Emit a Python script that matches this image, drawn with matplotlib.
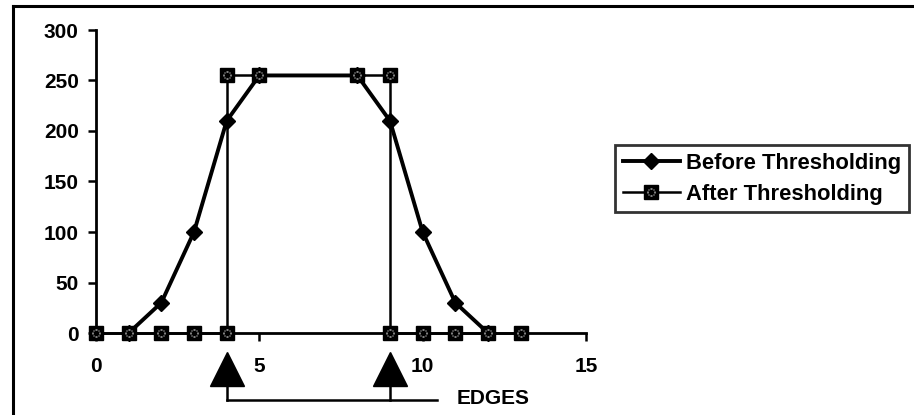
import matplotlib
matplotlib.use("Agg")
import matplotlib.pyplot as plt
from matplotlib.lines import Line2D
from matplotlib.path import Path
import matplotlib.transforms as mtransforms

plt.rcParams['font.family'] = ['Liberation Sans', 'DejaVu Sans']
plt.rcParams['font.weight'] = 'bold'

# Data
before_x = [1, 2, 3, 4, 5, 8, 9, 10, 11, 12]
before_y = [0, 30, 100, 210, 255, 255, 210, 100, 30, 0]
after_x = [0, 1, 2, 3, 4, 4, 5, 8, 9, 9, 10, 11, 12, 13]
after_y = [0, 0, 0, 0, 0, 255, 255, 255, 255, 0, 0, 0, 0, 0]
edges = [4, 9]
x_ticks = [0, 5, 10, 15]
y_ticks = [0, 50, 100, 150, 200, 250, 300]
labels = ["Before Thresholding", "After Thresholding"]
edge_label = "EDGES"

W, H = 914, 415
fig = plt.figure(figsize=(W / 100, H / 100), dpi=100)
ax = fig.add_axes([96 / W, 1 - 333 / H, (586 - 96) / W, (333 - 30) / H])

FS = 15
LFS = 15.8

# speckle marker: ring of small dots
def dot_marker():
    pts = [(0, 0.6), (0.6, 0), (0, -0.6), (-0.6, 0), (0.42, 0.42), (-0.42, 0.42), (0.42, -0.42), (-0.42, -0.42)]
    paths = []
    s = 0.13
    for (cx, cy) in pts:
        paths.append(Path([(cx - s, cy - s), (cx + s, cy - s), (cx + s, cy + s), (cx - s, cy + s), (cx - s, cy - s)],
                          [Path.MOVETO, Path.LINETO, Path.LINETO, Path.LINETO, Path.CLOSEPOLY]))
    return Path.make_compound_path(*paths)

dm = dot_marker()

l_after, = ax.plot(after_x, after_y, color='black', lw=1.8, marker='s', ms=10.5,
                   mfc='black', mec='black', clip_on=False, zorder=3)
d_after, = ax.plot(after_x, after_y, ls='none', marker=dm, ms=6, mfc='white', mec='none',
                   clip_on=False, zorder=4)
l_before, = ax.plot(before_x, before_y, color='black', lw=2.8, marker='D', ms=8.5,
                    mfc='black', mec='black', clip_on=False, zorder=2)

ax.set_xlim(0, 15)
ax.set_ylim(0, 300)
ax.set_xticks(x_ticks)
ax.set_yticks(y_ticks)
ax.spines['top'].set_visible(False)
ax.spines['right'].set_visible(False)
for s in ('left', 'bottom'):
    ax.spines[s].set_linewidth(2.0)
ax.tick_params(axis='y', direction='out', length=5.5, width=1.8, pad=7, labelsize=FS)
ax.tick_params(axis='x', direction='out', length=5.5, width=1.8, pad=12, labelsize=FS)
for t in ax.get_xticklabels() + ax.get_yticklabels():
    t.set_fontweight('bold')

# edge arrows and bracket
trans = mtransforms.blended_transform_factory(ax.transData, ax.transAxes)
ax.plot(edges, [-0.12] * len(edges), ls='none', marker='^', ms=24.5, color='black',
        transform=trans, clip_on=False)
for e in edges:
    ax.plot([e, e], [-0.17, -0.222], color='black', lw=1.8, transform=trans, clip_on=False)
ax.plot([edges[0], 10.45], [-0.222, -0.222], color='black', lw=1.8, transform=trans, clip_on=False)
ax.text(11.05, -0.215, edge_label, transform=trans, fontsize=FS, fontweight='bold',
        ha='left', va='center')

# legend
leg = fig.legend([l_before, (l_after, d_after)], labels, loc='upper left',
                 bbox_to_anchor=(615 / W, 1 - 145 / H), borderaxespad=0,
                 frameon=True, fancybox=False, edgecolor='black',
                 handlelength=2.6, handletextpad=0.3, labelspacing=0.45,
                 borderpad=0.35, prop={'weight': 'bold', 'size': LFS})
leg.get_frame().set_linewidth(2.0)

# outer border (top and left)
fig.add_artist(Line2D([13 / W, 1], [1 - 6 / H, 1 - 6 / H], color='black', lw=2.2, transform=fig.transFigure))
fig.add_artist(Line2D([13 / W, 13 / W], [0, 1 - 6 / H], color='black', lw=2.2, transform=fig.transFigure))

fig.savefig('out.png', dpi=100)
